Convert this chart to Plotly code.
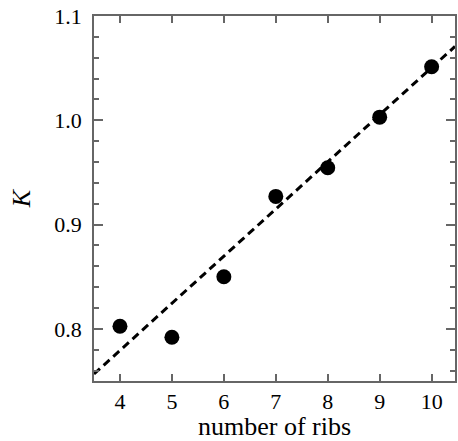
import plotly.graph_objects as go

ribs = [4, 5, 6, 7, 8, 9, 10]
K = [0.8025, 0.792, 0.850, 0.927, 0.9545, 1.003, 1.0513]
fit_slope = 0.0452
fit_intercept = 0.5985
line_x = [3.5, 10.45]
line_y = [fit_intercept + fit_slope * x for x in line_x]

fig = go.Figure()
fig.add_trace(go.Scatter(x=line_x, y=line_y, mode="lines",
                         line=dict(color="black", width=3, dash="8px,5px"),
                         showlegend=False, hoverinfo="skip"))
fig.add_trace(go.Scatter(x=ribs, y=K, mode="markers",
                         marker=dict(color="black", size=15),
                         showlegend=False))

axcol = "#666666"
fig.update_layout(
    width=458, height=441,
    margin=dict(l=94, r=1, t=16, b=60),
    plot_bgcolor="white", paper_bgcolor="white",
    font=dict(family="Liberation Serif", color="black", size=22),
    xaxis=dict(range=[3.5, 10.45], tickvals=ribs, ticks="inside", ticklen=7,
               tickwidth=1.5, tickcolor=axcol, showline=True, linecolor=axcol,
               linewidth=1.5, mirror="allticks", showgrid=False, zeroline=False,
               title=dict(text="number of ribs", font=dict(size=26), standoff=4),
               tickfont=dict(size=22)),
    yaxis=dict(range=[0.75, 1.1], tickvals=[0.8, 0.9, 1.0, 1.1],
               ticktext=["0.8", "0.9", "1.0", "1.1"],
               ticks="inside", ticklen=9, tickwidth=1.5, tickcolor=axcol,
               showline=True, linecolor=axcol, linewidth=1.5, mirror="allticks",
               showgrid=False, zeroline=False,
               ticklabelstandoff=6,
               minor=dict(dtick=0.02, ticks="inside", ticklen=5, tickwidth=1.5,
                          tickcolor=axcol, showgrid=False),
               title=dict(text="<i>K</i>", font=dict(size=26), standoff=16),
               tickfont=dict(size=22)),
)
fig.write_html("out.html")
